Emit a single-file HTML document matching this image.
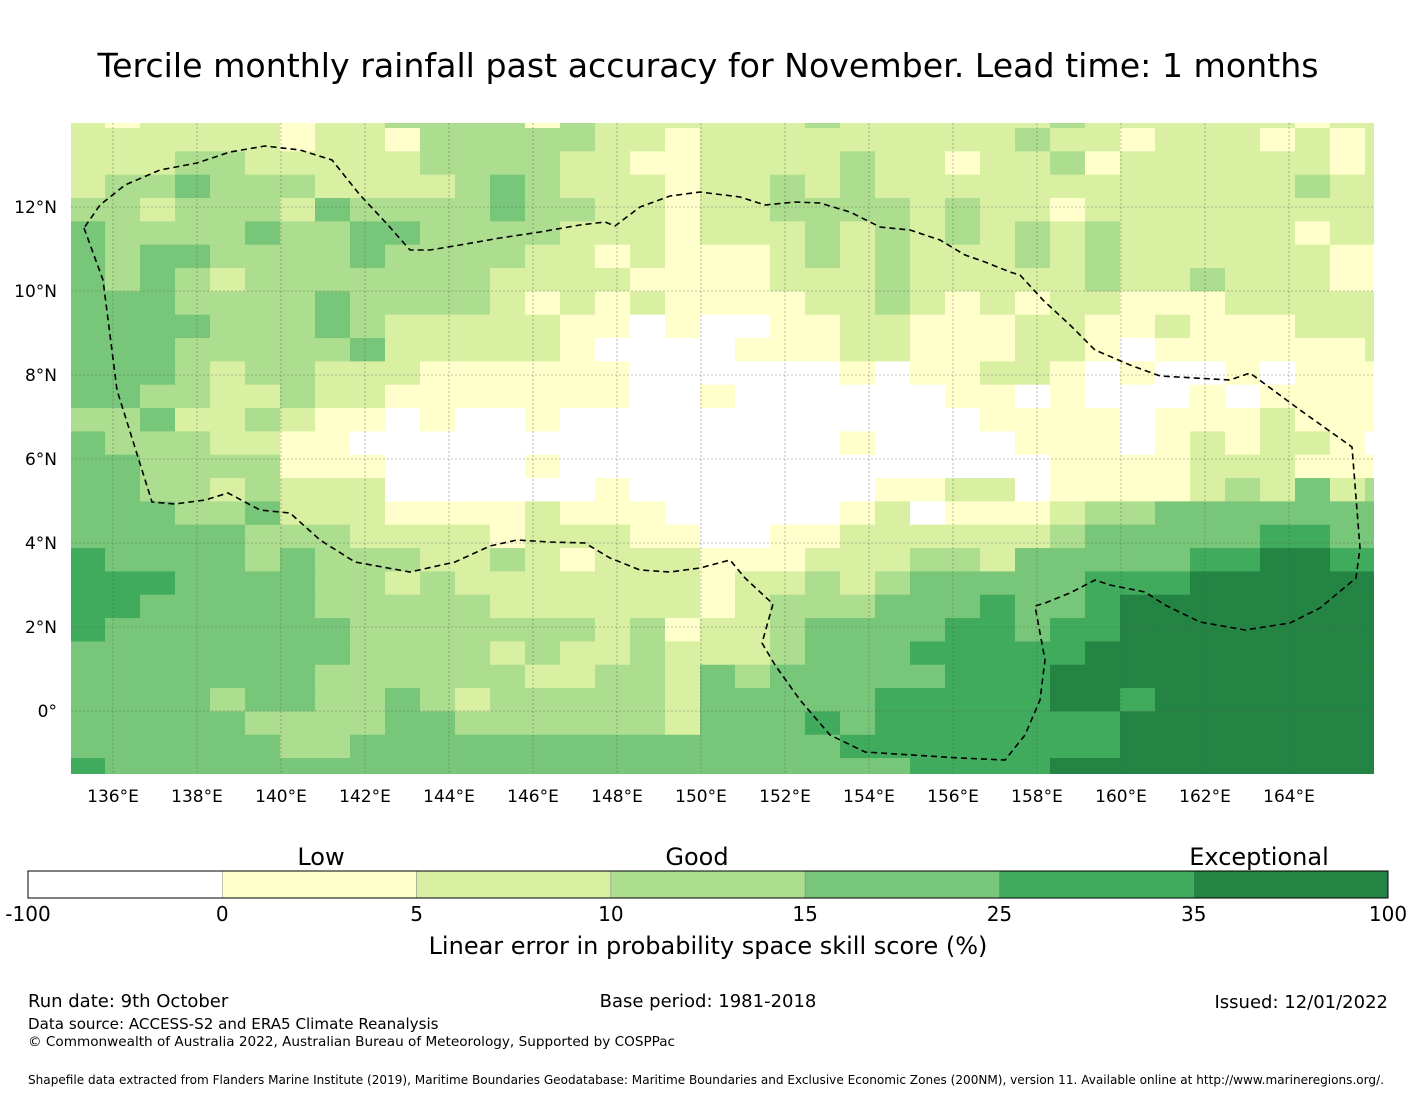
<!DOCTYPE html>
<html><head><meta charset="utf-8"><style>
html,body{margin:0;padding:0;background:#fff}
svg{display:block;font-family:"DejaVu Sans","Liberation Sans",sans-serif}
</style></head><body>
<svg id="chart" width="1416" height="1095" viewBox="0 0 1416 1095" xmlns="http://www.w3.org/2000/svg">
<defs><clipPath id="mapclip"><rect x="71" y="123" width="1303" height="651"/></clipPath></defs>
<text x="708" y="77" text-anchor="middle" font-size="33.2">Tercile monthly rainfall past accuracy for November. Lead time: 1 months</text>
<g id="cells" clip-path="url(#mapclip)"></g>
<g id="grid" clip-path="url(#mapclip)"></g>
<path clip-path="url(#mapclip)" fill="none" stroke="#000" stroke-width="1.6" stroke-dasharray="6,4" d="M84,228 L103,280 L117,390 L152,502 L175,504 L205,500 L228,493 L260,510 L290,513 L320,540 L355,562 L410,572 L455,562 L490,546 L517,540 L550,542 L585,543 L610,558 L640,570 L670,572 L700,568 L730,560 L745,578 L773,604 L762,643 L775,665 L800,700 L830,735 L865,752 L960,758 L1005,760 L1025,735 L1040,700 L1045,660 L1035,606 L1045,603 L1070,593 L1095,580 L1110,585 L1145,592 L1165,605 L1200,622 L1245,630 L1290,623 L1320,608 L1356,578 L1360,548 L1352,447 L1300,410 L1250,373 L1230,380 L1160,376 L1130,365 L1095,350 L1070,325 L1043,300 L1020,275 L1010,272 L985,262 L965,255 L940,240 L910,230 L880,227 L850,212 L820,203 L795,202 L765,205 L740,197 L700,192 L670,196 L640,207 L615,226 L605,222 L580,225 L540,232 L500,238 L460,245 L430,250 L410,250 L388,225 L360,195 L332,160 L300,150 L265,146 L230,152 L197,163 L160,170 L125,185 L100,205 Z"/>
<g id="xlabels"></g>
<g id="ylabels"></g>
<g id="cbar"></g>
<text x="321" y="865" text-anchor="middle" font-size="24">Low</text>
<text x="697" y="865" text-anchor="middle" font-size="24">Good</text>
<text x="1259" y="865" text-anchor="middle" font-size="24">Exceptional</text>
<text x="708" y="954" text-anchor="middle" font-size="24">Linear error in probability space skill score (%)</text>
<text x="28" y="1007" font-size="18">Run date: 9th October</text>
<text x="708" y="1007" text-anchor="middle" font-size="18">Base period: 1981-2018</text>
<text x="1388" y="1008" text-anchor="end" font-size="18">Issued: 12/01/2022</text>
<text x="28" y="1029" font-size="15.1">Data source: ACCESS-S2 and ERA5 Climate Reanalysis</text>
<text x="28" y="1046" font-size="13.6">© Commonwealth of Australia 2022, Australian Bureau of Meteorology, Supported by COSPPac</text>
<text x="28" y="1084" font-size="12.07">Shapefile data extracted from Flanders Marine Institute (2019), Maritime Boundaries Geodatabase: Maritime Boundaries and Exclusive Economic Zones (200NM), version 11. Available online at http://www.marineregions.org/.</text>
</svg>
<script>
const levelColors = ["#ffffff","#ffffcc","#d9f0a3","#addd8e","#78c679","#41ab5d","#238443"];
const cbarTicks = ["-100","0","5","10","15","25","35","100"];
const lonTicks = [136,138,140,142,144,146,148,150,152,154,156,158,160,162,164];
const latTicks = [0,2,4,6,8,10,12];
const gridLon0 = 134.977, gridLat0 = 14.436, dLon = 0.8333, dLat = 0.5556;
const rows = [
"2122221223333"+"132222223222"+"2223222222122",
"2222221221333"+"332212222222"+"2232212221212",
"2223322222333"+"322112222322"+"1223122222212",
"2334333222234"+"322212232322"+"2222222222322",
"3323332433334"+"332212233332"+"3221222222222",
"4333343344333"+"322212223232"+"3232322222122",
"4344333343333"+"221211123232"+"2232322222211",
"4343233333332"+"222111122232"+"2222322322211",
"4443333433332"+"121211112232"+"1212211122222",
"4444333432222"+"211010011221"+"1122112111222",
"4443333342222"+"210000111221"+"1122101111112",
"4443233222111"+"111000000101"+"1221010010111",
"4433223221111"+"111001000000"+"1101000101111",
"3342232110100"+"100000000000"+"0111101112111",
"4333221100000"+"000000000100"+"0011101212210",
"4433331110000"+"100000000000"+"0001111222111",
"4433232220000"+"001000000011"+"2201111232423",
"4443342221111"+"211100000120"+"1112334444444",
"4444433322221"+"222110011222"+"2223444445544",
"5444434333223"+"212221112223"+"3244444556655",
"5554444332322"+"222221223234"+"4444555666666",
"5544444333332"+"222221233344"+"4544566666666",
"5444444433333"+"332312234444"+"5545566666666",
"4444444433332"+"322322234445"+"5555666666666",
"4444444333333"+"223324344444"+"5556666666666",
"4444344334323"+"333324444455"+"5556656666666",
"4444433334433"+"333324445455"+"5555566666666",
"4444443344444"+"444444444555"+"5555566666666",
"5444444444444"+"444444444445"+"5556666666666"
];
const NS="http://www.w3.org/2000/svg";
const xOf = lon => 113 + (lon-136)*42;
const yOf = lat => 207 + (12-lat)*42;
function mk(tag, attrs, parent){const e=document.createElementNS(NS,tag);for(const k in attrs)e.setAttribute(k,attrs[k]);parent.appendChild(e);return e;}
const cells=document.getElementById('cells');
rows.forEach((row,r)=>{
  for(let c=0;c<row.length;c++){
    const v=+row[c];
    const lonL=gridLon0+c*dLon, latT=gridLat0-r*dLat;
    const x0=xOf(lonL), x1=xOf(lonL+dLon), y0=yOf(latT), y1=yOf(latT-dLat);
    const el=mk('rect',{x:x0.toFixed(2),y:y0.toFixed(2),width:(x1-x0+0.4).toFixed(2),height:(y1-y0+0.4).toFixed(2),fill:levelColors[v]},cells);
    
    
  }
});
const grid=document.getElementById('grid');
lonTicks.forEach(l=>{const e=mk('line',{x1:xOf(l),x2:xOf(l),y1:123,y2:774,stroke:'#555','stroke-width':0.6,'stroke-dasharray':'2,2','stroke-opacity':0.7},grid);

});
latTicks.forEach(l=>{const e=mk('line',{x1:71,x2:1374,y1:yOf(l),y2:yOf(l),stroke:'#555','stroke-width':0.6,'stroke-dasharray':'2,2','stroke-opacity':0.7},grid);

});
const xl=document.getElementById('xlabels');
lonTicks.forEach(l=>{const e=mk('text',{x:xOf(l),y:802,'text-anchor':'middle','font-size':17},xl);e.textContent=l+'°E';

});
const yl=document.getElementById('ylabels');
latTicks.forEach(l=>{const e=mk('text',{x:57,y:yOf(l)+6,'text-anchor':'end','font-size':17},yl);e.textContent=l===0?'0°':l+'°N';

});
const cb=document.getElementById('cbar');
const cbX=28, cbW=1360, seg=cbW/levelColors.length;
levelColors.forEach((col,i)=>{const e=mk('rect',{x:cbX+i*seg,y:871,width:seg,height:27,fill:col,stroke:'#888','stroke-width':0.5},cb);

});
mk('rect',{x:cbX,y:871,width:cbW,height:27,fill:'none',stroke:'#000','stroke-width':1},cb);
cbarTicks.forEach((t,i)=>{const e=mk('text',{x:cbX+i*seg,y:921,'text-anchor':'middle','font-size':20},cb);e.textContent=t;

});
</script>
</body></html>
